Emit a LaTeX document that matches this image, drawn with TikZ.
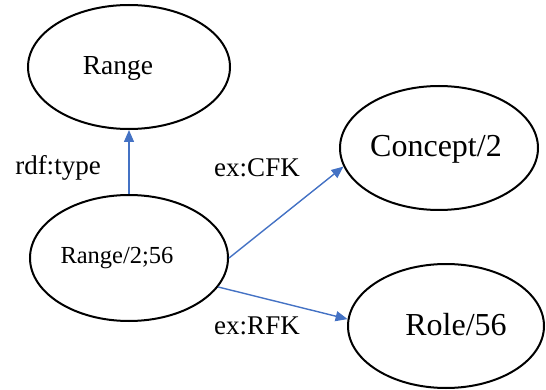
\documentclass[tikz,border=0pt]{standalone}
\usepackage{fontspec}
\setmainfont{Liberation Serif}
\usetikzlibrary{arrows.meta,shapes.geometric}
\definecolor{edgeblue}{RGB}{68,114,196}
\begin{document}
\begin{tikzpicture}[x=1pt,y=-1pt,
  oval/.style={draw=black,line width=2pt,ellipse,inner sep=0pt},
  word/.style={inner sep=0pt,anchor=base,text=black},
  rel/.style={draw=edgeblue,line width=1.4pt,-{Triangle[length=12pt,width=10pt]}}]
  \useasboundingbox (0,0) rectangle (546,390);
  % class and instance ellipses
  \node[oval,minimum width=202pt,minimum height=124pt] (range) at (129,67) {};
  \node[oval,minimum width=198pt,minimum height=126pt] (inst) at (129,258) {};
  \node[oval,minimum width=198pt,minimum height=124pt] (concept) at (439,148) {};
  \node[oval,minimum width=196pt,minimum height=124pt] (role) at (446,326) {};
  % ellipse captions
  \node[word,font=\fontsize{27.5}{32}\selectfont] (rangeText) at (118,75) {Range};
  \node[word,font=\fontsize{24.5}{29}\selectfont] (instText) at (117,263) {Range/2;56};
  \node[word,font=\fontsize{32}{38}\selectfont] (conceptText) at (436,157) {Concept/2};
  \node[word,font=\fontsize{32}{38}\selectfont] (roleText) at (456,335) {Role/56};
  % relations
  \draw[rel] (inst.north) -- (range.south);
  \draw[rel] (inst.east) -- (concept.191);
  \draw[rel] (inst.-18) -- (role.176);
  % relation names
  \node[word,font=\fontsize{27}{32}\selectfont] (typeLbl) at (58,175) {rdf:type};
  \node[word,font=\fontsize{27}{32}\selectfont] (cfkLbl) at (257,177) {ex:CFK};
  \node[word,font=\fontsize{27}{32}\selectfont] (rfkLbl) at (257,334) {ex:RFK};
\end{tikzpicture}
\end{document}
